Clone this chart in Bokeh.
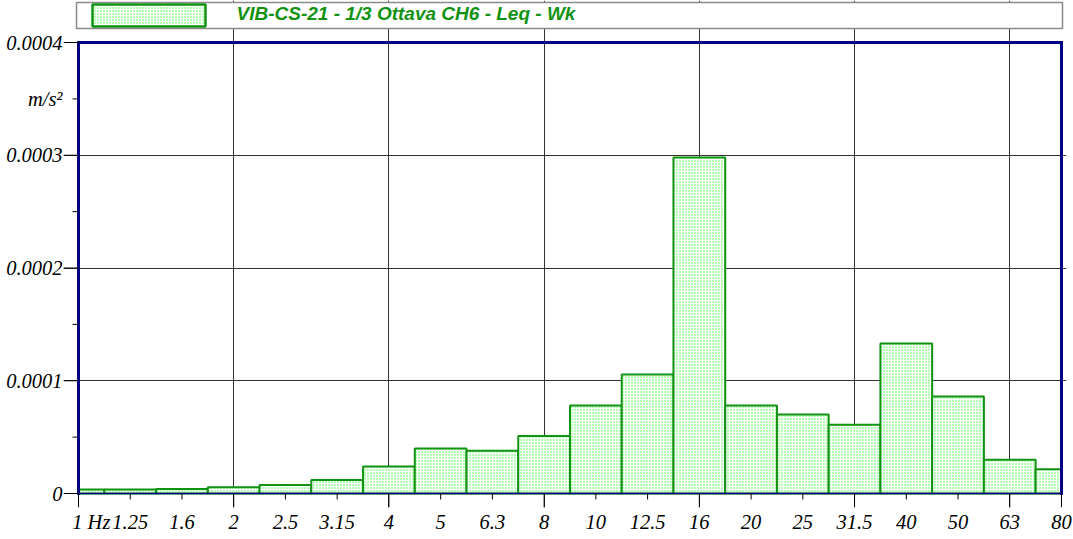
import math
from bokeh.plotting import figure
from bokeh.models import Range1d, FixedTicker, ColumnDataSource, LinearScale
from bokeh.core.properties import value
from bokeh.embed import file_html
from bokeh.resources import INLINE

# ---- data ----
freq_labels = ["1", "1.25", "1.6", "2", "2.5", "3.15", "4", "5", "6.3", "8",
               "10", "12.5", "16", "20", "25", "31.5", "40", "50", "63", "80"]
leq_values = [0.0000035, 0.0000035, 0.0000040, 0.0000055, 0.0000075, 0.0000120,
              0.0000240, 0.0000400, 0.0000380, 0.0000510, 0.0000780, 0.0001055,
              0.0002980, 0.0000780, 0.0000700, 0.0000610, 0.0001330, 0.0000860,
              0.0000300, 0.0000215]
series_name = "VIB-CS-21 - 1/3 Ottava CH6 - Leq - Wk"
y_max = 0.0004
y_tick_values = [0, 0.00005, 0.0001, 0.00015, 0.0002, 0.00025, 0.0003, 0.00035, 0.0004]
y_tick_labels = ["0", "", "0.0001", "", "0.0002", "", "0.0003", "m/s²", "0.0004"]
y_long_ticks = [0, 0.0001, 0.0002, 0.0003, 0.0004]
y_short_ticks = [0.00005, 0.00015, 0.00025, 0.00035]
y_grid_values = [0.0001, 0.0002, 0.0003]
octave_labels = ["2", "4", "8", "16", "31.5", "63"]

# ---- band geometry (exact 1/3 octave centres) ----
n = len(freq_labels)
centers = [10 ** (k / 10) for k in range(n)]
f_lo, f_hi = centers[0], centers[-1]
lefts = [max(10 ** ((k - 0.5) / 10), f_lo) for k in range(n)]
rights = [min(10 ** ((k + 0.5) / 10), f_hi) for k in range(n)]
grid_x = [centers[freq_labels.index(l)] for l in octave_labels]
long_x = [f_lo] + grid_x + [f_hi]
short_x = [c for c in centers if c not in long_x]

x_over = {c: l for c, l in zip(centers, freq_labels)}
x_over[centers[0]] = "\u00a0\u00a0\u00a0\u00a0\u00a01 Hz"

# ---- layout (canvas pixels) ----
FIG_W, FIG_H = 1073, 539
FL, FR, FT, FB = 63, 1066, 0, 507      # frame edges
X1, XN = 78, 1061                       # first / last band centre
Y0, YT = 493, 42                        # value 0 / value y_max
ppo = (XN - X1) / math.log2(f_hi / f_lo)
ppy = (Y0 - YT) / y_max
x_start = f_lo * 2 ** ((FL - X1) / ppo)
x_end = f_hi * 2 ** ((FR - XN) / ppo)
y_start = -(FB - Y0) / ppy
y_end = y_max + (YT - FT) / ppy

GREEN = "#129212"
NAVY = "#000080"
SERIF = "Liberation Serif"

p = figure(width=FIG_W, height=FIG_H, output_backend="svg", toolbar_location=None,
           x_axis_type="log", x_range=Range1d(x_start, x_end),
           y_range=Range1d(y_start, y_end),
           min_border_left=FL, min_border_right=FIG_W - FR,
           min_border_top=FT, min_border_bottom=FIG_H - FB)
p.extra_x_ranges = {"px": Range1d(0, FR - FL)}
p.extra_y_ranges = {"py": Range1d(FB - FT, 0)}
p.extra_x_scales = {"px": LinearScale()}
p.extra_y_scales = {"py": LinearScale()}
p.outline_line_color = None
p.background_fill_color = "white"
p.border_fill_color = "white"

# grids
p.xgrid.ticker = FixedTicker(ticks=grid_x)
p.xgrid.bounds = (0, y_max)
p.ygrid.ticker = FixedTicker(ticks=y_grid_values)
p.ygrid.bounds = (f_lo, f_hi)
for g in (p.xgrid, p.ygrid):
    g.grid_line_color = "#333333"
    g.grid_line_width = 1

# bars
src = ColumnDataSource(dict(left=lefts, right=rights, top=leq_values, bottom=[0] * n))
p.quad(left="left", right="right", top="top", bottom="bottom", source=src,
       fill_color="white", hatch_pattern="dot", hatch_color="#3dff3d",
       hatch_scale=3, hatch_weight=1, line_color=GREEN, line_width=2)

# frame borders
p.segment(x0=[f_lo], y0=[0], x1=[f_hi], y1=[0], line_color=NAVY, line_width=1.5)
p.segment(x0=[f_lo, f_lo, f_hi], y0=[0, y_max, 0], x1=[f_lo, f_hi, f_hi],
          y1=[y_max, y_max, y_max], line_color=NAVY, line_width=3, line_cap="square")

# ticks
x_tick_short = f_lo * 2 ** (-6 / ppo)
p.segment(x0=[x_start] * len(y_long_ticks), y0=y_long_ticks,
          x1=[f_lo] * len(y_long_ticks), y1=y_long_ticks, line_color="black", line_width=1)
p.segment(x0=[x_tick_short] * len(y_short_ticks), y0=y_short_ticks,
          x1=[f_lo] * len(y_short_ticks), y1=y_short_ticks, line_color="black", line_width=1)
p.segment(x0=long_x, y0=[0] * len(long_x), x1=long_x, y1=[-14 / ppy] * len(long_x),
          line_color="black", line_width=1)
p.segment(x0=short_x, y0=[0] * len(short_x), x1=short_x, y1=[-6 / ppy] * len(short_x),
          line_color="black", line_width=1)

# axes (labels only)
xa = p.xaxis[0]
xa.ticker = FixedTicker(ticks=centers)
xa.major_label_overrides = x_over
xa.major_tick_out = 0
xa.major_tick_in = 0
xa.minor_tick_out = 0
xa.minor_tick_in = 0
xa.major_tick_line_color = None
xa.minor_tick_line_color = None
xa.axis_line_color = None
xa.major_label_standoff = 3
xa.major_label_text_font = SERIF
xa.major_label_text_font_style = "italic"
xa.major_label_text_font_size = "20.5px"
xa.major_label_text_color = "black"

ya = p.yaxis[0]
ya.ticker = FixedTicker(ticks=y_tick_values)
ya.major_label_overrides = {v: l for v, l in zip(y_tick_values, y_tick_labels)}
ya.major_tick_out = 0
ya.major_tick_in = 0
ya.minor_tick_out = 0
ya.minor_tick_in = 0
ya.major_tick_line_color = None
ya.minor_tick_line_color = None
ya.axis_line_color = None
ya.major_label_standoff = 1
ya.major_label_text_font = SERIF
ya.major_label_text_font_style = "italic"
ya.major_label_text_font_size = "20.5px"
ya.major_label_text_color = "black"

# legend strip (pixel coordinates inside the frame)
p.quad(left=[13], right=[999], top=[2], bottom=[28], x_range_name="px", y_range_name="py",
       fill_color="white", line_color="#8a8a8a", line_width=1.5)
p.quad(left=[29], right=[142], top=[4], bottom=[26], x_range_name="px", y_range_name="py",
       fill_color="white", hatch_pattern="dot", hatch_color="#3dff3d", hatch_scale=3,
       hatch_weight=1, line_color=GREEN, line_width=2.5)
p.text(x=[173], y=[12.5], text=[series_name], x_range_name="px", y_range_name="py",
       text_font=value("Liberation Sans"), text_font_style="bold italic",
       text_font_size="19px", text_color=GREEN, text_baseline="middle", text_align="left")

open("out.html", "w").write(file_html(p, INLINE))
